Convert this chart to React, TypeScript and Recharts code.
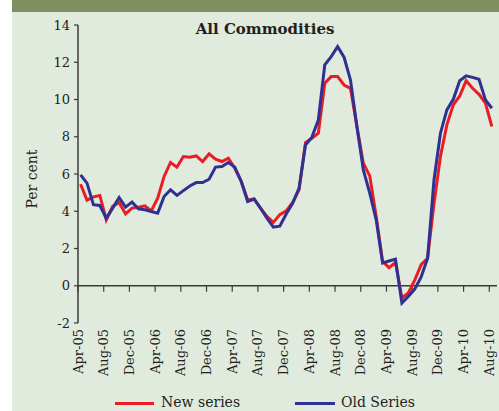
import React from 'react';
import { LineChart, Line, XAxis, YAxis, ReferenceLine, Legend, Label } from 'recharts';

const tickLabels = [
  'Apr-05', 'Aug-05', 'Dec-05', 'Apr-06', 'Aug-06', 'Dec-06', 'Apr-07', 'Aug-07', 'Dec-07',
  'Apr-08', 'Aug-08', 'Dec-08', 'Apr-09', 'Aug-09', 'Dec-09', 'Apr-10', 'Aug-10',
];

const newSeries = [
  5.45, 4.6, 4.77, 4.85, 3.54, 4.26, 4.47, 3.86, 4.17, 4.22, 4.29, 4.02, 4.7,
  5.87, 6.62, 6.37, 6.94, 6.9, 6.97, 6.67, 7.08, 6.8, 6.67, 6.85, 6.31, 5.6,
  4.61, 4.67, 4.17, 3.72, 3.4, 3.82, 4.02, 4.47, 5.15, 7.69, 7.92, 8.19, 10.87,
  11.23, 11.23, 10.78, 10.6, 8.55, 6.58, 5.9, 3.72, 1.31, 0.97, 1.25, -0.66,
  -0.39, 0.3, 1.13, 1.48, 4.43, 6.94, 8.64, 9.71, 10.19, 11.01, 10.6, 10.28,
  9.8, 8.55,
];

const oldSeries = [
  5.95, 5.51, 4.35, 4.31, 3.63, 4.17, 4.74, 4.22, 4.49, 4.13, 4.08, 3.99, 3.9,
  4.79, 5.15, 4.85, 5.11, 5.36, 5.54, 5.54, 5.72, 6.37, 6.4, 6.62, 6.37, 5.6,
  4.52, 4.65, 4.17, 3.63, 3.15, 3.2, 3.85, 4.43, 5.24, 7.56, 7.98, 8.9, 11.86,
  12.3, 12.84, 12.27, 11.05, 8.55, 6.22, 4.97, 3.54, 1.22, 1.33, 1.43, -0.93,
  -0.57, -0.18, 0.47, 1.48, 5.69, 8.19, 9.44, 10.01, 11.01, 11.27, 11.19, 11.09,
  9.98, 9.53,
];

const yTicks = [-2, 0, 2, 4, 6, 8, 10, 12, 14];
const xTicks = tickLabels.map((_, k) => k * 4);

const data = newSeries.map((v, i) => ({ x: i + 0.4, newS: v, oldS: oldSeries[i] }));

const FONT = '"DejaVu Serif", serif';
const TEXT = '#231f20';
const AXIS = '#3a3a3a';
const RED = '#ec1c24';
const BLUE = '#2e3192';

function XTick(props: any) {
  const { x, y, payload } = props;
  const label = tickLabels[Math.round(payload.value / 4)];
  return (
    <text
      x={x}
      y={y}
      transform={`rotate(-90 ${x} ${y})`}
      textAnchor="end"
      dominantBaseline="central"
      fontFamily={FONT}
      fontSize={13}
      fill={TEXT}
    >
      {label}
    </text>
  );
}

function YLabel(props: any) {
  const vb = props.viewBox || { x: 0, y: 25, width: 78, height: 298 };
  const cx = vb.x + 32;
  const cy = vb.y + vb.height / 2 + 5;
  return (
    <text
      x={cx}
      y={cy}
      transform={`rotate(-90 ${cx} ${cy})`}
      textAnchor="middle"
      dominantBaseline="central"
      fontFamily={FONT}
      fontSize={14}
      fill={TEXT}
    >
      Per cent
    </text>
  );
}

function LegendContent() {
  const txt: React.CSSProperties = {
    position: 'absolute',
    top: 0,
    fontFamily: FONT,
    fontSize: 14,
    lineHeight: '14px',
    color: TEXT,
    whiteSpace: 'nowrap',
  };
  return (
    <div style={{ position: 'relative', width: 330, height: 18 }}>
      <span style={{ position: 'absolute', left: 0, top: 7, width: 39, height: 3, background: RED }} />
      <span style={{ ...txt, left: 46 }}>New series</span>
      <span style={{ position: 'absolute', left: 180, top: 7, width: 40, height: 3, background: BLUE }} />
      <span style={{ ...txt, left: 226 }}>Old Series</span>
    </div>
  );
}

export default function App() {
  return (
    <div style={{ position: 'absolute', left: 0, top: 0, width: 499, height: 411, background: '#ffffff', overflow: 'hidden' }}>
      <div style={{ position: 'absolute', left: 12, top: 0, width: 487, height: 411, background: '#e0eadd' }} />
      <div style={{ position: 'absolute', left: 12, top: 0, width: 487, height: 12, background: '#808f60' }} />
      <div
        style={{
          position: 'absolute',
          left: 115,
          top: 20,
          width: 300,
          textAlign: 'center',
          fontFamily: FONT,
          fontWeight: 'bold',
          fontSize: 15,
          lineHeight: '18px',
          color: TEXT,
        }}
      >
        All Commodities
      </div>
      <div style={{ position: 'absolute', left: 0, top: 0 }}>
        <LineChart width={499} height={411} data={data} margin={{ top: 25, right: 2, bottom: 0, left: 0 }}>
          <XAxis
            type="number"
            dataKey="x"
            domain={[0, 65.2]}
            ticks={xTicks}
            interval={0}
            allowDataOverflow
            axisLine={false}
            tickLine={false}
            tickSize={0}
            tickMargin={6}
            height={88}
            tick={<XTick />}
          />
          <YAxis
            type="number"
            domain={[-2, 14]}
            ticks={yTicks}
            interval={0}
            width={78}
            axisLine={{ stroke: AXIS, strokeWidth: 1.5 }}
            tickLine={{ stroke: AXIS, strokeWidth: 1.2 }}
            tickSize={4}
            tickMargin={4}
            tick={{ fontFamily: FONT, fontSize: 13, fill: TEXT }}
          >
            <Label content={<YLabel />} />
          </YAxis>
          <ReferenceLine y={0} stroke={AXIS} strokeWidth={1.5} />
          {xTicks.map((t) => (
            <ReferenceLine
              key={t}
              segment={[{ x: t, y: 0 }, { x: t, y: -0.32 }]}
              stroke={AXIS}
              strokeWidth={1.2}
            />
          ))}
          <Line type="linear" dataKey="newS" stroke={RED} strokeWidth={3} dot={false} isAnimationActive={false} />
          <Line type="linear" dataKey="oldS" stroke={BLUE} strokeWidth={3} dot={false} isAnimationActive={false} />
          <Legend
            layout="horizontal"
            verticalAlign="middle"
            align="center"
            content={<LegendContent />}
            wrapperStyle={{ position: 'absolute', left: 115, top: 395, width: 330, height: 18 }}
          />
        </LineChart>
      </div>
    </div>
  );
}
